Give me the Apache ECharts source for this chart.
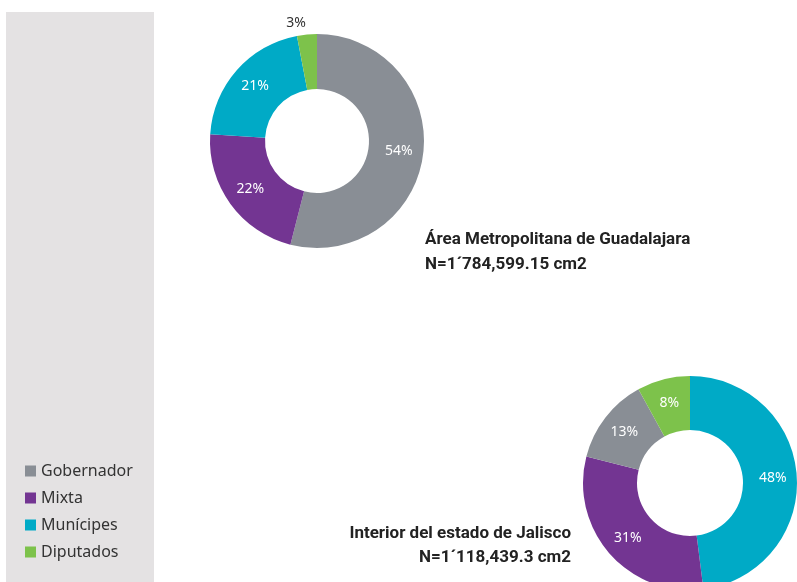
<!DOCTYPE html>
<html>
<head>
<meta charset="utf-8">
<script src="https://cdn.jsdelivr.net/npm/echarts@6/dist/echarts.min.js"></script>
<style>
  html, body { margin: 0; padding: 0; background: #fff; }
  #main { width: 797px; height: 582px; }
</style>
</head>
<body>
<div id="main"></div>
<script>
  // categorias y valores (porcentajes)
  var categories = ['Gobernador', 'Mixta', 'Munícipes', 'Diputados'];
  var colors = ['#898e95', '#733592', '#00aac6', '#7dc24b'];

  // Área Metropolitana de Guadalajara: Gobernador, Mixta, Munícipes, Diputados
  var amgValues = [54, 22, 21, 3];
  // Interior del estado: Munícipes, Mixta, Gobernador, Diputados (orden del dibujo)
  var interiorOrder = ['Munícipes', 'Mixta', 'Gobernador', 'Diputados'];
  var interiorValues = [48, 31, 13, 8];

  var titleAmg = ['Área Metropolitana de Guadalajara', 'N=1´784,599.15 cm2'];
  var titleInt = ['Interior del estado de Jalisco', 'N=1´118,439.3 cm2'];

  function colorOf(name) {
    return colors[categories.indexOf(name)];
  }

  var amgData = categories.map(function (c, i) {
    var item = { name: c, value: amgValues[i], itemStyle: { color: colorOf(c) } };
    if (amgValues[i] < 5) {
      // la etiqueta pequeña va afuera, sin linea
      item.label = { position: 'outside', color: '#333', align: 'center', distanceToLabelLine: 0 };
      item.labelLine = { show: false, length: 12, length2: 0 };
    }
    return item;
  });

  var intData = interiorOrder.map(function (c, i) {
    return { name: c, value: interiorValues[i], itemStyle: { color: colorOf(c) } };
  });

  var labelStyle = {
    show: true,
    position: 'inside',
    formatter: '{c}%',
    color: '#fff',
    fontFamily: 'Noto Sans',
    fontSize: 14
  };

  var titleFont = 'bold 17px Roboto';

  var option = {
    animation: false,
    color: colors,
    graphic: [
      {
        type: 'rect',
        z: -10,
        shape: { x: 6, y: 12, width: 148, height: 580 },
        style: { fill: '#e4e2e3' }
      },
      {
        type: 'text',
        left: 425,
        top: 227,
        style: {
          text: titleAmg.join('\n'),
          font: titleFont,
          fill: '#222',
          lineHeight: 25
        }
      },
      {
        type: 'text',
        right: 226,
        top: 525,
        style: { text: titleInt[0], font: titleFont, fill: '#222', align: 'right' }
      },
      {
        type: 'text',
        right: 226,
        top: 549,
        style: { text: titleInt[1], font: titleFont, fill: '#222', align: 'right' }
      }
    ],
    legend: {
      orient: 'vertical',
      left: 20,
      top: 458,
      icon: 'rect',
      itemWidth: 11,
      itemHeight: 11,
      itemGap: 11,
      data: categories,
      textStyle: { fontFamily: 'Noto Sans', fontSize: 16, color: '#333' }
    },
    series: [
      {
        name: 'AMG',
        type: 'pie',
        center: [317, 141],
        radius: [52, 107],
        startAngle: 90,
        clockwise: true,
        avoidLabelOverlap: false,
        label: labelStyle,
        labelLine: { show: false },
        data: amgData
      },
      {
        name: 'Interior',
        type: 'pie',
        center: [690, 483],
        radius: [53, 107],
        startAngle: 90,
        clockwise: true,
        avoidLabelOverlap: false,
        label: labelStyle,
        labelLine: { show: false },
        data: intData
      }
    ]
  };

  var chart = echarts.init(document.getElementById('main'));
  chart.setOption(option);
</script>
</body>
</html>
